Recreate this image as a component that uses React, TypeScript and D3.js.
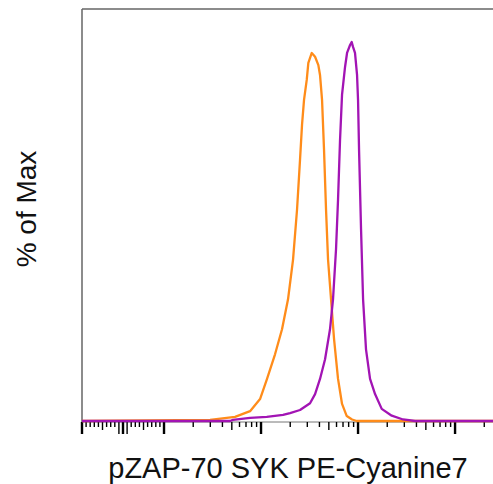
import React, { useEffect } from 'react';
import * as d3 from 'd3';

// fluorescence values (x) and % of max (y)
const orangeVals = [-100, 298, 540, 771, 977, 1153, 1394, 1646, 1898, 2138, 2351, 2523, 2647, 2775, 2959, 3074, 3334, 3606, 3898, 4055, 4256, 4460, 4677, 4906, 5268, 5659, 6220, 6840, 7650, 8676, 9700, 252000];
const orangePct = [0, 0.3, 1.1, 2.6, 5.8, 11.1, 17.6, 24.2, 32.1, 42.6, 55.8, 68.9, 78.2, 84.7, 90, 94.5, 97.1, 96.1, 93.9, 91.3, 84.7, 71.6, 55.8, 42.6, 32.1, 21.6, 11.1, 4.5, 1.3, 0.4, 0, 0];

const purpleVals = [-100, 479, 514, 771, 1146, 1686, 1991, 2523, 3200, 3606, 4055, 4571, 5140, 5521, 5930, 6220, 6523, 6840, 7345, 7704, 8276, 8600, 8878, 9305, 9767, 10000, 10240, 10740, 11270, 12080, 13300, 14970, 17540, 22250, 29110, 38700, 252000];
const purplePct = [0, 0, 0.3, 0.8, 1.1, 1.6, 2.1, 2.9, 4.7, 7.1, 11.1, 16.3, 24.2, 32.1, 45.3, 58.4, 74.2, 86.1, 93.4, 97.1, 99.2, 100, 98.7, 97.1, 91.3, 84.7, 71.6, 50.5, 32.1, 18.9, 11.1, 7.1, 3.2, 1.4, 0.4, 0, 0];

const majorTicks = [-100, 0, 100, 1000, 10000, 100000];
const linearMinor = [-90, -80, -70, -60, -50, -40, -30, -20, -10, 10, 20, 30, 40, 50, 60, 70, 80, 90];
const logMultipliers = [2, 3, 4, 5, 6, 7, 8, 9];
const logDecades = [100, 1000, 10000, 100000];

const xLabel = 'pZAP-70 SYK PE-Cyanine7';
const yLabel = '% of Max';

const W = 493;
const H = 484;
const LIN = 100;
const R = 41 / 97;

// linear around zero, log above |100|
const tr = (v: number) =>
  Math.abs(v) <= LIN ? (v / LIN) * R : Math.sign(v) * (R + Math.log10(Math.abs(v) / LIN));

const App: React.FC = () => {
  useEffect(() => {
    document.body.style.margin = '0';
  }, []);

  const x = d3.scaleLinear().domain([tr(-100), tr(252000)]).range([82, 494]);
  const y = d3.scaleLinear().domain([0, 108.7]).range([421, 9]);
  const px = (v: number) => x(tr(v));

  const line = d3
    .line<[number, number]>()
    .x((d) => px(d[0]))
    .y((d) => y(d[1]))
    .curve(d3.curveLinear);

  const orange = orangeVals.map((v, i) => [v, orangePct[i]] as [number, number]);
  const purple = purpleVals.map((v, i) => [v, purplePct[i]] as [number, number]);

  const minorTicks: { v: number; len: number }[] = [];
  linearMinor.forEach((v) => minorTicks.push({ v, len: Math.abs(v) <= 10 ? 12 : Math.abs(v) === 50 ? 8 : 5 }));
  logDecades.forEach((d) =>
    logMultipliers.forEach((m) => {
      const v = d * m;
      if (v <= 252000) minorTicks.push({ v, len: m === 5 ? 8 : 5 });
    })
  );

  const axisY = 422;

  return (
    <svg width={W} height={H} style={{ display: 'block', background: '#fff' }} fontFamily="Arial, 'Liberation Sans', sans-serif">
      {/* frame */}
      <line x1={82} y1={9} x2={82} y2={axisY} stroke="#666" strokeWidth={1.5} />
      <line x1={82} y1={9} x2={W} y2={9} stroke="#666" strokeWidth={1.5} />
      <line x1={82} y1={axisY} x2={W} y2={axisY} stroke="#777" strokeWidth={1} />

      {/* ticks */}
      {minorTicks.map((t, i) => (
        <line key={'m' + i} x1={px(t.v)} x2={px(t.v)} y1={axisY} y2={axisY + t.len} stroke="#000" strokeWidth={1.4} />
      ))}
      {majorTicks.map((t, i) => (
        <line key={'M' + i} x1={px(t)} x2={px(t)} y1={axisY} y2={axisY + 12} stroke="#000" strokeWidth={2.4} />
      ))}

      {/* histograms */}
      <path d={line(orange) || ''} fill="none" stroke="#FF8C1A" strokeWidth={2.3} strokeLinejoin="round" />
      <path d={line(purple) || ''} fill="none" stroke="#A214B4" strokeWidth={2.3} strokeLinejoin="round" />

      {/* labels */}
      <text x={288} y={478} textAnchor="middle" fontSize={29} fill="#111">
        {xLabel}
      </text>
      <text transform="translate(36,209) rotate(-90)" textAnchor="middle" fontSize={28} fill="#111">
        {yLabel}
      </text>
    </svg>
  );
};

export default App;
